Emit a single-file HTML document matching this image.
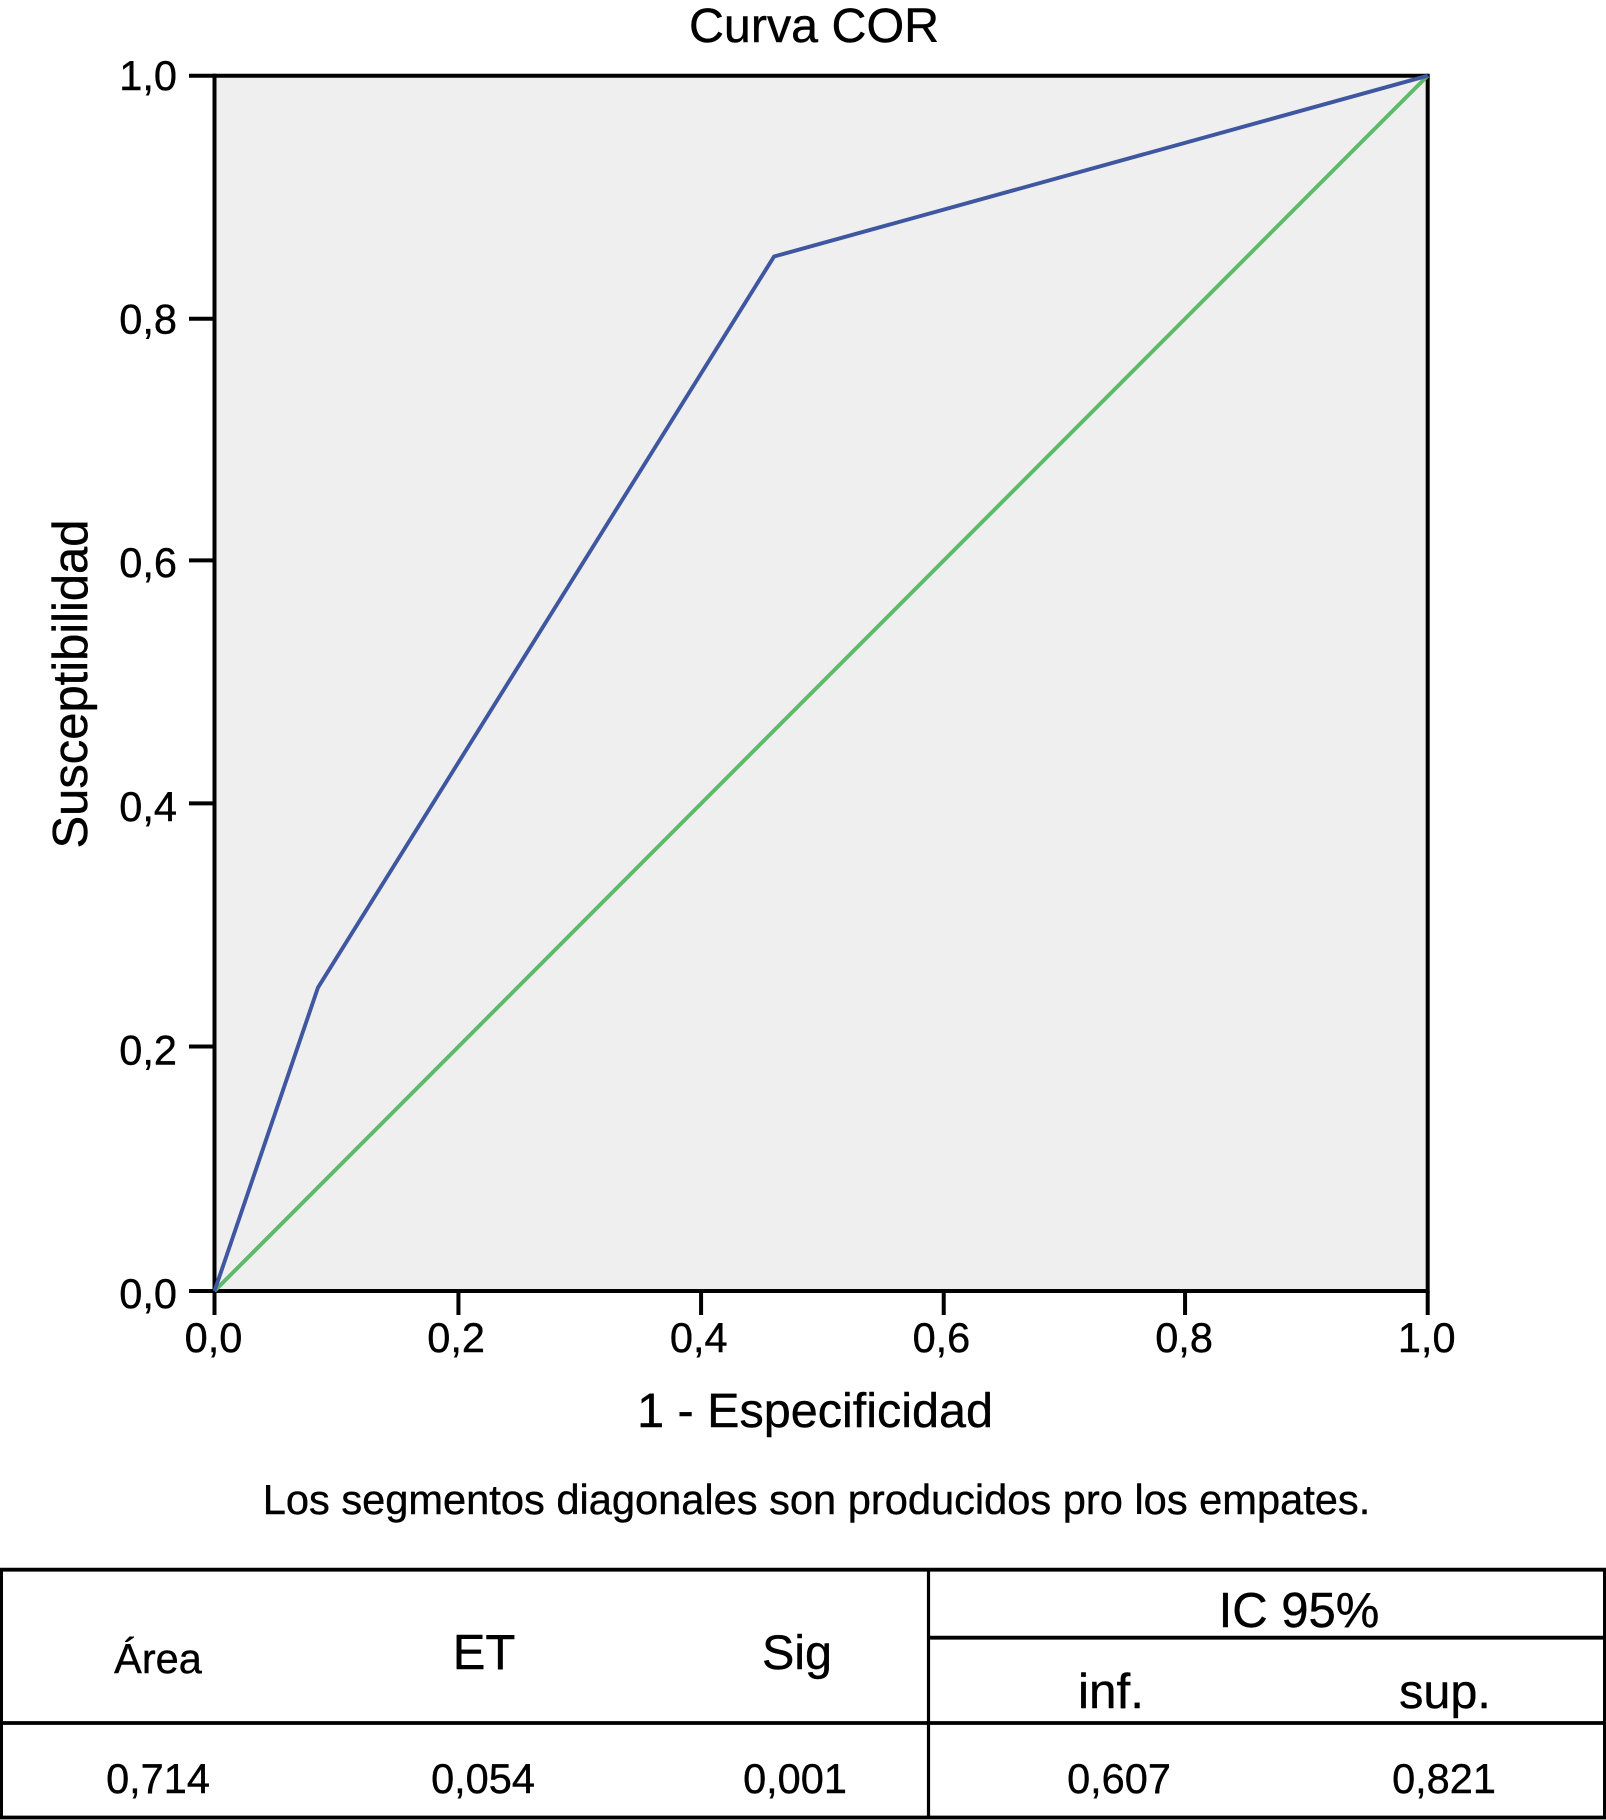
<!DOCTYPE html>
<html lang="es">
<head>
<meta charset="utf-8">
<title>Curva COR</title>
<style>
html,body{margin:0;padding:0;background:#fff;width:1606px;height:1820px;overflow:hidden}
svg{display:block}
text{font-family:"Liberation Sans",sans-serif;fill:#000;stroke:#000;stroke-width:0.4}
</style>
</head>
<body>
<svg id="chart" xmlns="http://www.w3.org/2000/svg" width="1606" height="1820" viewBox="0 0 1606 1820">
  <rect x="0" y="0" width="1606" height="1820" fill="#ffffff"/>
  <text x="814" y="42" font-size="48.4" text-anchor="middle">Curva COR</text>
  <rect x="214.5" y="75.7" width="1213.2" height="1215.3" fill="#efefef"/>
  <g id="axes"></g>
  <g id="series"></g>
  <text transform="translate(87,684) rotate(-90)" font-size="48.9" text-anchor="middle">Susceptibilidad</text>
  <text x="815" y="1427" font-size="48.5" text-anchor="middle">1 - Especificidad</text>
  <text x="816.5" y="1514" font-size="41.6" text-anchor="middle">Los segmentos diagonales son producidos pro los empates.</text>

  <g stroke="#000" fill="none">
    <line x1="0" y1="1569.7" x2="1606" y2="1569.7" stroke-width="3.8"/>
    <line x1="928.5" y1="1637.7" x2="1606" y2="1637.7" stroke-width="3.8"/>
    <line x1="0" y1="1723" x2="1606" y2="1723" stroke-width="3.8"/>
    <line x1="0" y1="1817.5" x2="1606" y2="1817.5" stroke-width="3.8"/>
    <line x1="1.5" y1="1568" x2="1.5" y2="1819" stroke-width="3"/>
    <line x1="1604.5" y1="1568" x2="1604.5" y2="1819" stroke-width="3"/>
    <line x1="928.5" y1="1568" x2="928.5" y2="1819" stroke-width="3.2"/>
  </g>
  <g text-anchor="middle">
    <text x="158" y="1673" font-size="41.5">Área</text>
    <text x="484" y="1669" font-size="49">ET</text>
    <text x="797" y="1669" font-size="48.5">Sig</text>
    <text x="1299" y="1627" font-size="49">IC 95%</text>
    <text x="1111" y="1708" font-size="49.5">inf.</text>
    <text x="1445" y="1708" font-size="48.5">sup.</text>
    <text x="158" y="1793" font-size="41.5">0,714</text>
    <text x="483" y="1793" font-size="41.5">0,054</text>
    <text x="795" y="1793" font-size="41.5">0,001</text>
    <text x="1119" y="1793" font-size="41.5">0,607</text>
    <text x="1444" y="1793" font-size="41.5">0,821</text>
  </g>
</svg>
<script>
var rocX = [0, 0.0853, 0.4612, 1];
var rocY = [0, 0.2497, 0.8512, 1];
var refX = [0, 1];
var refY = [0, 1];
var xTicks = [0, 0.2, 0.4, 0.6, 0.8, 1];
var yTicks = [0, 0.2, 0.4, 0.6, 0.8, 1];
var xTickLabels = ['0,0', '0,2', '0,4', '0,6', '0,8', '1,0'];
var yTickLabels = ['0,0', '0,2', '0,4', '0,6', '0,8', '1,0'];

var NS = 'http://www.w3.org/2000/svg';
function xScale(v) { return 214.5 + v * 1213.2; }
function yScale(v) { return 1291 - v * 1215.3; }
function xTickPos(v) { return xScale(v) + (v > 0 && v < 0.7 ? 1.3 : 0); }
function yTickPos(v) { return yScale(v) - (v > 0 && v < 0.7 ? 1.5 : 0); }
function yLabelPos(v) { return 1308 - v * 1218; }

function points(xs, ys) {
  var out = [];
  for (var i = 0; i < xs.length; i++) {
    out.push(xScale(xs[i]).toFixed(2) + ',' + yScale(ys[i]).toFixed(2));
  }
  return out.join(' ');
}

var seriesLayer = document.getElementById('series');
var axesLayer = document.getElementById('axes');

var refLine = document.createElementNS(NS, 'polyline');


refLine.setAttribute('points', points(refX, refY));
refLine.setAttribute('fill', 'none');
refLine.setAttribute('stroke', '#5cba68');
refLine.setAttribute('stroke-width', '3.9');
seriesLayer.appendChild(refLine);

var rocLine = document.createElementNS(NS, 'polyline');


rocLine.setAttribute('points', points(rocX, rocY));
rocLine.setAttribute('fill', 'none');
rocLine.setAttribute('stroke', '#3f57a0');
rocLine.setAttribute('stroke-width', '3.9');
rocLine.setAttribute('stroke-linejoin', 'round');
seriesLayer.appendChild(rocLine);

function addLine(name, x1, y1, x2, y2) {
  var l = document.createElementNS(NS, 'line');
  
  
  l.setAttribute('x1', x1);
  l.setAttribute('y1', y1);
  l.setAttribute('x2', x2);
  l.setAttribute('y2', y2);
  l.setAttribute('stroke', '#000');
  l.setAttribute('stroke-width', '4');
  axesLayer.appendChild(l);
}

addLine('plot-frame-left', xScale(0), yScale(1) - 2, xScale(0), yScale(0) + 2);
addLine('plot-frame-right', xScale(1), yScale(1) - 2, xScale(1), yScale(0) + 2);
addLine('plot-frame-top', xScale(0), yScale(1), xScale(1), yScale(1));
addLine('plot-frame-bottom', xScale(0), yScale(0), xScale(1), yScale(0));

xTicks.forEach(function (v, i) {
  addLine('x-tick', xTickPos(v), yScale(0), xTickPos(v), 1315);
  var t = document.createElementNS(NS, 'text');
  
  
  t.setAttribute('x', xScale(v) - 1);
  t.setAttribute('y', 1352);
  t.setAttribute('font-size', '41.5');
  t.setAttribute('text-anchor', 'middle');
  t.textContent = xTickLabels[i];
  axesLayer.appendChild(t);
});

yTicks.forEach(function (v, i) {
  addLine('y-tick', 189, yTickPos(v), xScale(0), yTickPos(v));
  var t = document.createElementNS(NS, 'text');
  
  
  t.setAttribute('x', 177);
  t.setAttribute('y', yLabelPos(v));
  t.setAttribute('font-size', '41.5');
  t.setAttribute('text-anchor', 'end');
  t.textContent = yTickLabels[i];
  axesLayer.appendChild(t);
});
</script>
</body>
</html>
